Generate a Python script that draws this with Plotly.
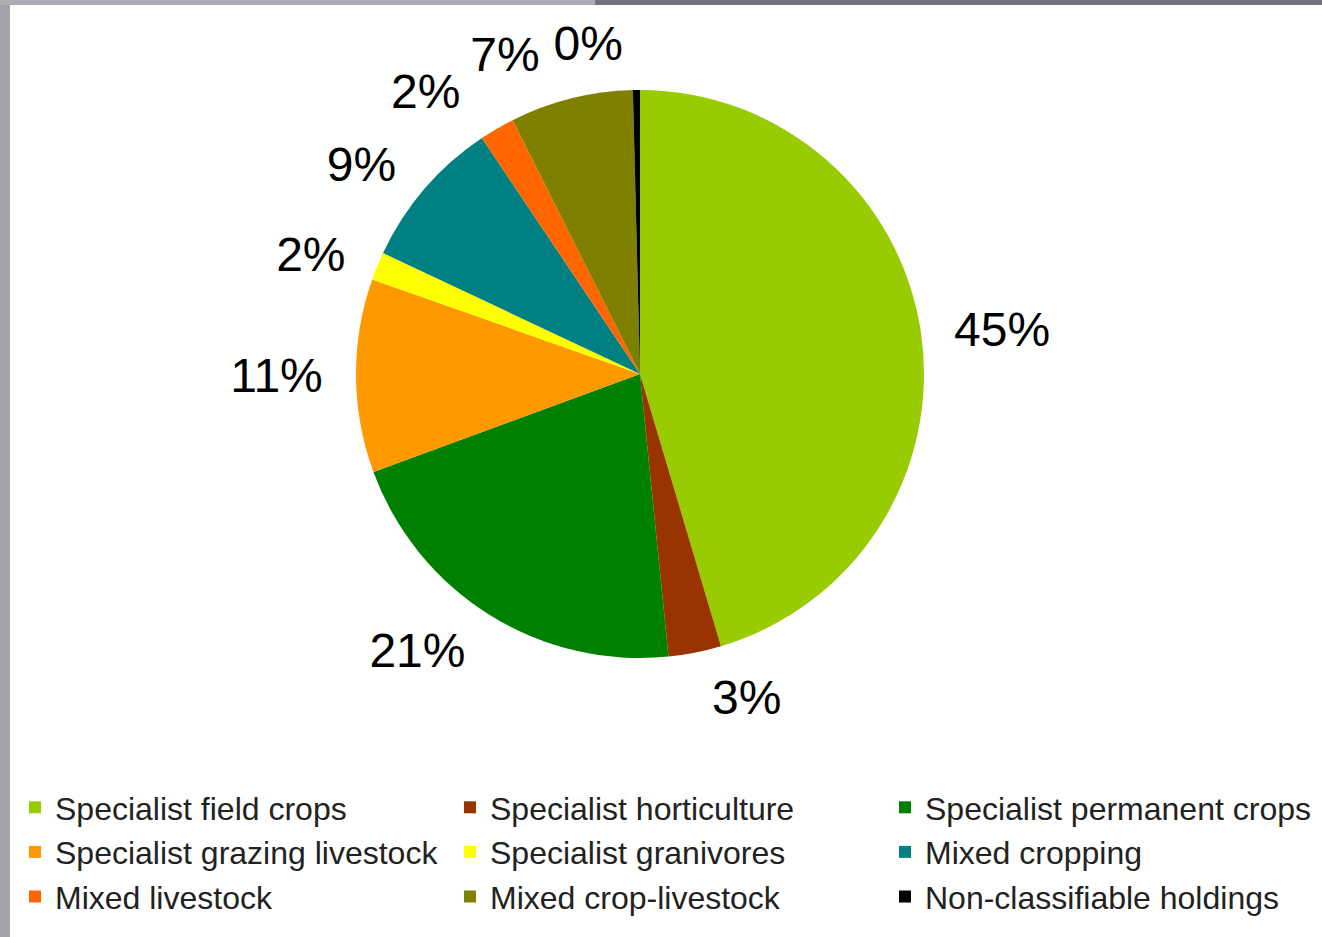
import plotly.graph_objects as go

# Farm types and their share of holdings (%)
farm_types = [
    "Specialist field crops",
    "Specialist horticulture",
    "Specialist permanent crops",
    "Specialist grazing livestock",
    "Specialist granivores",
    "Mixed cropping",
    "Mixed livestock",
    "Mixed crop-livestock",
    "Non-classifiable holdings",
]
shares = [45.4, 3.0, 21.0, 11.0, 1.6, 8.6, 2.0, 7.0, 0.4]
slice_colors = [
    "#99CC00", "#993300", "#008000", "#FF9900", "#FFFF00",
    "#008080", "#FF6600", "#808000", "#000000",
]

W, H = 1322, 937
FONT = "Liberation Sans, Arial, sans-serif"
PCT = "%{percent:.0%}"

CX, CY = 640 / W, 1 - 374 / H       # pie centre (paper fraction)
R_PIE = 284                           # pie radius, px
R_TEXT = 304                          # radius the percentage labels sit on, px

# labels near the top get a trailing no-break space to keep them apart
padded = {"Mixed livestock", "Mixed crop-livestock"}


def domain(radius_px):
    half_h = radius_px / H
    return dict(x=[CX - 383 / W, CX + 383 / W], y=[CY - half_h, CY + half_h])


# coloured pie carrying the legend
fig = go.Figure(
    go.Pie(
        labels=farm_types,
        values=shares,
        sort=False,
        direction="clockwise",
        rotation=0,
        marker=dict(colors=slice_colors, line=dict(width=0)),
        textinfo="none",
        domain=domain(R_PIE),
        hoverinfo="label+percent",
        showlegend=True,
    )
)

# Percentage labels: transparent copies of the same pie on a slightly larger
# circle; the two crowded top labels get their own copy each so the label
# placement does not push them apart.
top_labels = ["Mixed crop-livestock", "Non-classifiable holdings"]
label_groups = [
    [n for n in farm_types if n not in top_labels],
    ["Mixed crop-livestock"],
    ["Non-classifiable holdings"],
]
for group in label_groups:
    templates = []
    for n in farm_types:
        if n not in group:
            templates.append("")
        elif n in padded:
            templates.append(PCT + "\u00a0")
        else:
            templates.append(PCT)
    fig.add_trace(
        go.Pie(
            labels=farm_types,
            values=shares,
            sort=False,
            direction="clockwise",
            rotation=0,
            marker=dict(colors=["rgba(0,0,0,0)"] * len(farm_types), line=dict(width=0)),
            textposition="outside",
            texttemplate=templates,
            textfont=dict(family=FONT, size=48, color="#000000"),
            domain=domain(R_TEXT),
            hoverinfo="skip",
            showlegend=False,
        )
    )

# grey slide frame along the left and top edges
frame_shapes = [
    dict(type="rect", xref="paper", yref="paper", x0=0, x1=10 / W, y0=0, y1=1,
         fillcolor="#a5a2a9", line=dict(width=0)),
    dict(type="rect", xref="paper", yref="paper", x0=0, x1=0.45, y0=1 - 5 / H, y1=1,
         fillcolor="#afacb3", line=dict(width=0)),
    dict(type="rect", xref="paper", yref="paper", x0=0.45, x1=1, y0=1 - 5 / H, y1=1,
         fillcolor="#74737a", line=dict(width=0)),
]

fig.update_layout(
    width=W,
    height=H,
    margin=dict(l=0, r=0, t=0, b=0, autoexpand=False),
    paper_bgcolor="#ffffff",
    plot_bgcolor="#ffffff",
    shapes=frame_shapes,
    showlegend=True,
    legend=dict(
        orientation="h",
        x=15 / W,
        xanchor="left",
        y=1 - 780 / H,
        yanchor="top",
        entrywidth=390,
        entrywidthmode="pixels",
        traceorder="normal",
        font=dict(family=FONT, size=32, color="#222222"),
        bgcolor="rgba(0,0,0,0)",
    ),
)

fig.write_html("out.html")
